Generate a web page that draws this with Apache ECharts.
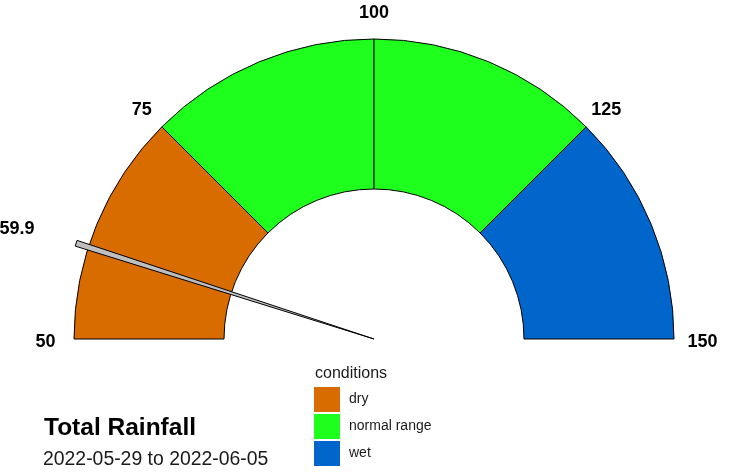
<!DOCTYPE html>
<html>
<head>
<meta charset="utf-8">
<script src="https://cdn.jsdelivr.net/npm/echarts@6/dist/echarts.min.js"></script>
<style>
  html, body { margin: 0; padding: 0; background: #ffffff; }
  #chart { width: 730px; height: 476px; }
</style>
</head>
<body>
<div id="chart"></div>
<script>
// Gauge scale
const gaugeMin = 50;
const gaugeMax = 150;
const tickStep = 25;
const tickValues = [50, 75, 100, 125, 150];

// Band edges and the condition each band belongs to
const breaks = [50, 75, 100, 125, 150];
const bandConditions = ['dry', 'normal range', 'normal range', 'wet'];

// Legend entries and their colours
const conditions = ['dry', 'normal range', 'wet'];
const conditionColors = ['#D96C00', '#1EFF1E', '#0066CC'];

// Reading shown by the needle
const rainfall = 59.9;

const titleText = 'Total Rainfall';
const periodText = '2022-05-29 to 2022-06-05';
const legendTitle = 'conditions';

// Radii in radius-axis units (1 = outer edge of the dial)
const BAND_INNER = 0.5;
const BAND_OUTER = 1;
const NEEDLE_LEN = 1.043;
const TICK_LABEL_R = 1.095;
const VALUE_LABEL_R = 1.243;
const NEEDLE_HALF_WIDTH = 3;
const FONT = '"Liberation Sans", Arial, sans-serif';
const LABEL_FONT = 'bold 18px ' + FONT;

const chart = echarts.init(document.getElementById('chart'));

// One annular sector between two gauge values
function renderBand(params, api) {
  const from = api.value(0);
  const to = api.value(1);
  const a = api.coord([BAND_INNER, from]);
  const b = api.coord([BAND_OUTER, to]);
  const cs = params.coordSys;
  return {
    type: 'sector',
    shape: {
      cx: cs.cx, cy: cs.cy,
      r0: a[2], r: b[2],
      startAngle: -a[3], endAngle: -b[3],
      clockwise: true
    },
    style: { fill: api.visual('color'), stroke: '#000000', lineWidth: 1 }
  };
}

// Scale value written just outside the dial
function renderTick(params, api) {
  const v = api.value(1);
  const p = api.coord([TICK_LABEL_R, v]);
  return {
    type: 'text',
    x: p[0], y: p[1] + 3,
    style: {
      text: String(v), fill: '#000000', font: LABEL_FONT,
      align: 'center', verticalAlign: 'middle'
    }
  };
}

// Tapered needle from the hub out past the dial, plus its value label
function renderNeedle(params, api) {
  const v = api.value(1);
  const hub = api.coord([0, v]);
  const tip = api.coord([NEEDLE_LEN, v]);
  const dx = tip[0] - hub[0];
  const dy = tip[1] - hub[1];
  const len = Math.hypot(dx, dy);
  const nx = -dy / len * NEEDLE_HALF_WIDTH;
  const ny = dx / len * NEEDLE_HALF_WIDTH;
  const lp = api.coord([VALUE_LABEL_R, v]);
  return {
    type: 'group',
    children: [
      {
        type: 'polygon',
        shape: { points: [[hub[0], hub[1]], [tip[0] + nx, tip[1] + ny], [tip[0] - nx, tip[1] - ny]] },
        style: { fill: '#BEBEBE', stroke: '#000000', lineWidth: 1 }
      },
      {
        type: 'text',
        x: lp[0] - 2, y: lp[1] + 4,
        style: {
          text: v.toFixed(1), fill: '#000000', font: LABEL_FONT,
          align: 'center', verticalAlign: 'middle'
        }
      }
    ]
  };
}

const bandSeries = conditions.map((name, i) => ({
  type: 'custom',
  name: name,
  coordinateSystem: 'polar',
  itemStyle: { color: conditionColors[i] },
  data: breaks.slice(0, -1)
    .map((b, k) => ({ from: b, to: breaks[k + 1], cond: bandConditions[k] }))
    .filter(d => d.cond === name)
    .map(d => [d.from, d.to]),
  renderItem: renderBand,
  silent: true
}));

const tickSeries = {
  type: 'custom',
  name: 'scale',
  coordinateSystem: 'polar',
  data: tickValues.map(v => [1, v]),
  renderItem: renderTick,
  silent: true
};

const needleSeries = {
  type: 'custom',
  name: 'reading',
  coordinateSystem: 'polar',
  data: [[1, rainfall]],
  renderItem: renderNeedle,
  silent: true,
  z: 5
};

chart.setOption({
  animation: false,
  backgroundColor: '#ffffff',
  title: [
    {
      text: titleText, left: 44, top: 416, padding: 0,
      textStyle: { fontSize: 24.5, fontWeight: 'bold', color: '#000000', fontFamily: FONT }
    },
    {
      text: periodText, left: 43, top: 450, padding: 0,
      textStyle: { fontSize: 19.4, fontWeight: 'normal', color: '#1a1a1a', fontFamily: FONT }
    },
    {
      text: legendTitle, left: 315, top: 366, padding: 0,
      textStyle: { fontSize: 16, fontWeight: 'normal', color: '#1a1a1a', fontFamily: FONT }
    }
  ],
  legend: {
    data: conditions,
    orient: 'vertical',
    left: 314, top: 387,
    padding: 0,
    itemWidth: 26, itemHeight: 25, itemGap: 2,
    icon: 'rect',
    selectedMode: false,
    itemStyle: { borderWidth: 0 },
    textStyle: { fontSize: 14, color: '#1a1a1a', fontFamily: FONT, padding: [0, 0, 0, 4] }
  },
  polar: { center: [374, 339], radius: 315 },
  angleAxis: {
    type: 'value',
    min: gaugeMin, max: gaugeMax, interval: tickStep,
    startAngle: 180, endAngle: 0, clockwise: true,
    axisLine: { show: false },
    axisTick: { show: false },
    splitLine: { show: false },
    axisLabel: { show: false }
  },
  radiusAxis: { type: 'value', min: 0, max: 1.05, show: false },
  series: bandSeries.concat([tickSeries, needleSeries])
});
</script>
</body>
</html>
